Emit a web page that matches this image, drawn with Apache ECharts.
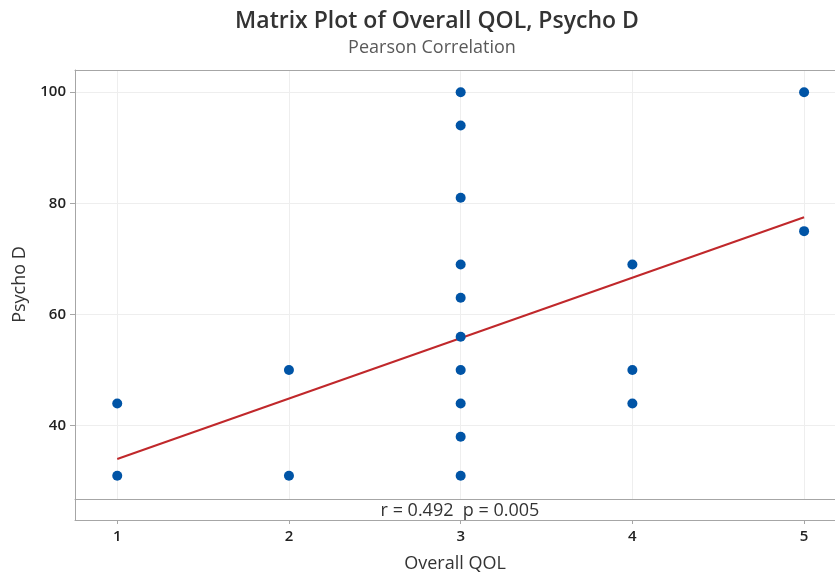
<!DOCTYPE html>
<html><head><meta charset="utf-8">
<script src="https://cdn.jsdelivr.net/npm/echarts@6/dist/echarts.min.js"></script>
<style>html,body{margin:0;padding:0;background:#fff}#c{width:835px;height:577px}</style>
</head><body><div id="c"></div>
<script>
const xTicks = [1, 2, 3, 4, 5];
const yTicks = [40, 60, 80, 100];
const overallQOL = [1, 1, 2, 2, 3, 3, 3, 3, 3, 3, 3, 3, 3, 3, 4, 4, 4, 5, 5];
const psychoD   = [44, 31, 50, 31, 100, 94, 81, 69, 63, 56, 50, 44, 38, 31, 69, 50, 44, 100, 75];
const fitX = [1, 5];
const fitY = [34.0, 77.5];
const statsText = 'r = 0.492  p = 0.005';

const FONT = '"Open Sans", "Noto Sans", sans-serif';
const FRAME = {show: true, lineStyle: {color: '#a6a6a6', width: 1}};
const XMIN = 0.754, XMAX = 5.18;
const chart = echarts.init(document.getElementById('c'), null, {renderer: 'canvas'});
chart.setOption({
  animation: false,
  backgroundColor: '#fff',
  title: [
    {
      text: 'Matrix Plot of Overall QOL, Psycho D',
      left: 432, top: 5, textAlign: 'center',
      textStyle: {fontFamily: FONT, fontSize: 23, fontWeight: 600, color: '#333'}
    },
    {
      text: 'Pearson Correlation',
      left: 427, top: 34, textAlign: 'center',
      textStyle: {fontFamily: FONT, fontSize: 18, fontWeight: 'normal', color: '#595959'}
    },
    {
      text: statsText,
      left: 455, top: 497, textAlign: 'center',
      textStyle: {fontFamily: FONT, fontSize: 18, fontWeight: 'normal', color: '#333', whiteSpace: 'pre'}
    }
  ],
  grid: [
    {left: 75, right: 0, top: 70, height: 429, show: false},
    {left: 75, right: 0, top: 499, height: 21, show: false}
  ],
  xAxis: [
    {
      gridIndex: 0, type: 'value', min: XMIN, max: XMAX, position: 'bottom',
      axisLine: FRAME, axisTick: {show: false}, axisLabel: {show: false},
      splitLine: {show: true, lineStyle: {color: '#eeeeee', width: 1}}
    },
    {
      gridIndex: 1, type: 'value', min: XMIN, max: XMAX, position: 'bottom',
      name: 'Overall QOL', nameLocation: 'middle', nameGap: 35,
      nameTextStyle: {fontFamily: FONT, fontSize: 18, color: '#333'},
      axisLine: FRAME,
      axisTick: {show: true, customValues: xTicks, length: 4, lineStyle: {color: '#a6a6a6'}},
      axisLabel: {show: true, customValues: xTicks, margin: 9, fontFamily: FONT, fontSize: 15, fontWeight: 600, color: '#222'},
      splitLine: {show: false}
    },
    {
      gridIndex: 0, type: 'value', min: XMIN, max: XMAX, position: 'top',
      axisLine: FRAME, axisTick: {show: false}, axisLabel: {show: false}, splitLine: {show: false}
    }
  ],
  yAxis: [
    {
      gridIndex: 0, type: 'value', min: 26.8, max: 104,
      name: 'Psycho D', nameLocation: 'middle', nameGap: 44,
      nameTextStyle: {fontFamily: FONT, fontSize: 18, color: '#333'},
      axisLine: FRAME,
      axisTick: {show: true, customValues: yTicks, length: 5, lineStyle: {color: '#a6a6a6'}},
      axisLabel: {show: true, customValues: yTicks, margin: 9, fontFamily: FONT, fontSize: 15, fontWeight: 600, color: '#222'},
      splitLine: {show: true, lineStyle: {color: '#eeeeee', width: 1}}
    },
    {
      gridIndex: 1, type: 'value', min: 0, max: 1,
      axisLine: FRAME, axisTick: {show: false}, axisLabel: {show: false}, splitLine: {show: false}
    }
  ],
  series: [
    {
      type: 'line', xAxisIndex: 0, yAxisIndex: 0,
      data: fitX.map((x, i) => [x, fitY[i]]),
      symbol: 'none', lineStyle: {color: '#c0282b', width: 2}, z: 2, silent: true
    },
    {
      type: 'scatter', xAxisIndex: 0, yAxisIndex: 0,
      data: overallQOL.map((x, i) => [x, psychoD[i]]),
      symbol: 'circle', symbolSize: 10,
      itemStyle: {color: '#0054a6', opacity: 1}, z: 3
    }
  ]
});
</script></body></html>
